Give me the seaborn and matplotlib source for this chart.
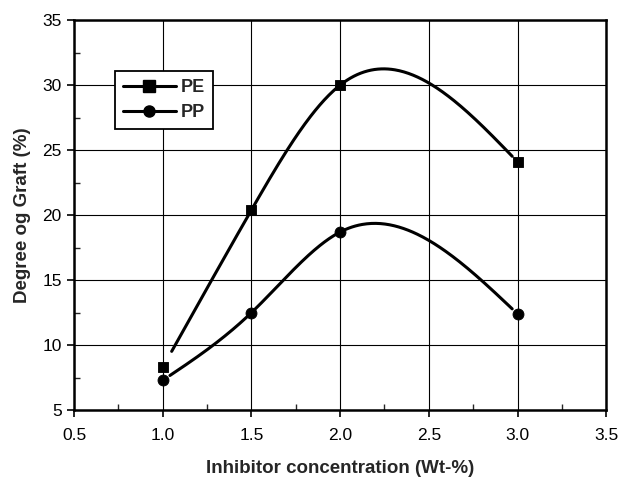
import numpy as np
import pandas as pd
import matplotlib
matplotlib.use("Agg")
import matplotlib.pyplot as plt
import seaborn as sns
from matplotlib.ticker import MultipleLocator
from matplotlib.lines import Line2D

conc = [1.0, 1.5, 2.0, 3.0]
pe_graft = [8.3, 20.4, 30.0, 24.1]
pp_graft = [7.3, 12.5, 18.7, 12.4]
x_label = "Inhibitor concentration (Wt-%)"
y_label = "Degree og Graft (%)"


def natural_spline(x, y, xs):
    x = np.asarray(x, float)
    y = np.asarray(y, float)
    n = len(x) - 1
    h = np.diff(x)
    A = np.zeros((n + 1, n + 1))
    b = np.zeros(n + 1)
    A[0, 0] = 1
    A[n, n] = 1
    for i in range(1, n):
        A[i, i - 1] = h[i - 1]
        A[i, i] = 2 * (h[i - 1] + h[i])
        A[i, i + 1] = h[i]
        b[i] = 6 * ((y[i + 1] - y[i]) / h[i] - (y[i] - y[i - 1]) / h[i - 1])
    M = np.linalg.solve(A, b)
    out = np.empty_like(xs)
    for k, xv in enumerate(xs):
        i = min(max(np.searchsorted(x, xv) - 1, 0), n - 1)
        hi = h[i]
        a = x[i + 1] - xv
        c = xv - x[i]
        out[k] = (M[i] * a ** 3 / (6 * hi) + M[i + 1] * c ** 3 / (6 * hi)
                  + (y[i] / hi - M[i] * hi / 6) * a
                  + (y[i + 1] / hi - M[i + 1] * hi / 6) * c)
    return out


sns.set_theme(style="white")
plt.rcParams['font.family'] = ['Liberation Sans', 'DejaVu Sans']

fig = plt.figure(figsize=(6.23, 4.78), dpi=100)
ax = fig.add_axes([0.119, 0.142, 0.854, 0.816])

df = pd.DataFrame({"conc": conc * 2,
                   "graft": pe_graft + pp_graft,
                   "series": ["PE"] * 4 + ["PP"] * 4})

for name, m, start in [("PE", "s", 0.05), ("PP", "o", 0.04)]:
    sub = df[df.series == name]
    xs = np.linspace(min(conc) + start, max(conc) - 0.03, 300)
    smooth = pd.DataFrame({"conc": xs,
                           "graft": natural_spline(sub.conc, sub.graft, xs)})
    sns.lineplot(data=smooth, x="conc", y="graft", ax=ax, color="black",
                 linewidth=2.2, zorder=3)
    sns.scatterplot(data=sub, x="conc", y="graft", ax=ax, marker=m,
                    color="black", s=62, edgecolor="black", zorder=4)

ax.set_xlim(0.5, 3.5)
ax.set_ylim(5, 35)
ax.xaxis.set_major_locator(MultipleLocator(0.5))
ax.xaxis.set_minor_locator(MultipleLocator(0.25))
ax.yaxis.set_major_locator(MultipleLocator(5))
ax.yaxis.set_minor_locator(MultipleLocator(2.5))
ax.xaxis.set_major_formatter(matplotlib.ticker.FormatStrFormatter('%.1f'))
ax.grid(True, which="major", color="black", linewidth=0.8)
ax.tick_params(which="major", direction="out", length=5, width=1.2,
               labelsize=12.5, colors="black", bottom=True, left=True, pad=4)
ax.tick_params(axis="x", which="major", pad=8)
ax.tick_params(which="minor", direction="in", length=4, width=1.0,
               bottom=True, left=True)
for s in ax.spines.values():
    s.set_color("black")
    s.set_linewidth(1.8)

ax.set_xlabel(x_label, fontsize=13.5, fontweight="bold", labelpad=12)
ax.set_ylabel(y_label, fontsize=13.5, fontweight="bold", labelpad=8)

handles = [Line2D([], [], color="black", lw=2.2, marker="s", markersize=8, label="PE"),
           Line2D([], [], color="black", lw=2.2, marker="o", markersize=8, label="PP")]
leg = ax.legend(handles=handles, loc="upper left", bbox_to_anchor=(0.077, 0.87),
                frameon=True, fancybox=False, edgecolor="black", framealpha=1,
                prop={"weight": "bold", "size": 13}, handlelength=2.9,
                borderpad=0.45, labelspacing=0.45, handletextpad=0.3,
                borderaxespad=0)
leg.get_frame().set_linewidth(1.3)

fig.savefig("out.png", dpi=100)
